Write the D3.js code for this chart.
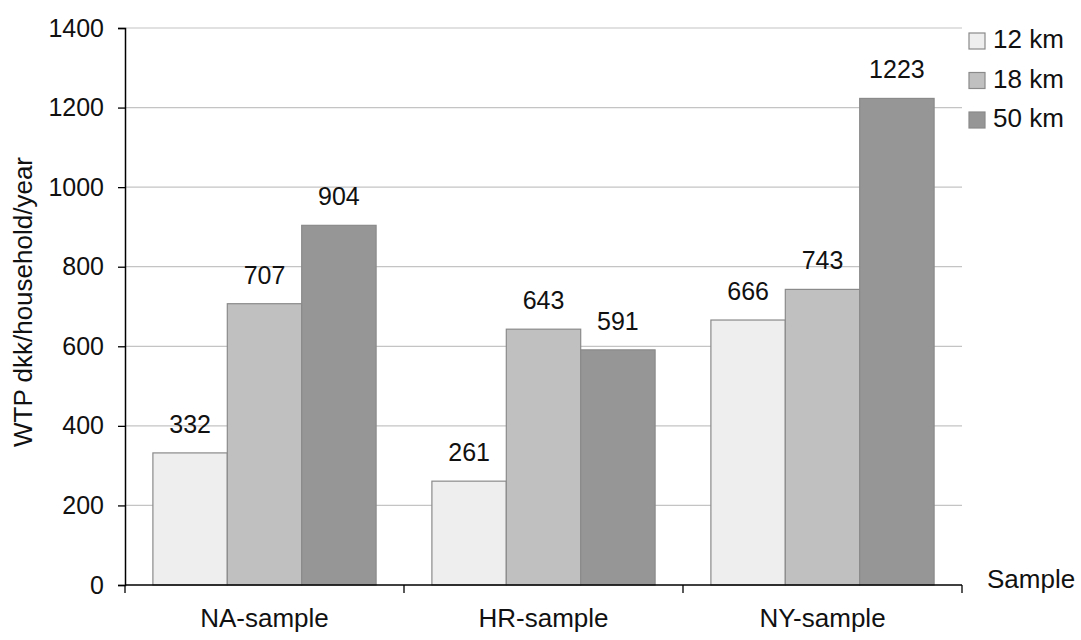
<!DOCTYPE html>
<html>
<head>
<meta charset="utf-8">
<script src="https://cdn.jsdelivr.net/npm/d3@7"></script>
<style>
  body { margin: 0; background: #fff; }
  text { font-family: "Liberation Sans", Arial, sans-serif; fill: #111; }
</style>
</head>
<body>
<svg width="1081" height="640"></svg>
<script>
"use strict";

var samples = ["NA-sample", "HR-sample", "NY-sample"];
var distances = ["12 km", "18 km", "50 km"];
var wtp12 = [332, 261, 666];
var wtp18 = [707, 643, 743];
var wtp50 = [904, 591, 1223];
var yTicks = [0, 200, 400, 600, 800, 1000, 1200, 1400];
var fills = ["#eeeeee", "#c0c0c0", "#969696"];

var series = [wtp12, wtp18, wtp50];

var svg = d3.select("svg");
var plotLeft = 125, plotRight = 962, plotTop = 28, plotBottom = 585;

var x0 = d3.scaleBand()
    .domain(samples)
    .range([plotLeft, plotRight])
    .paddingInner(0.2)
    .paddingOuter(0.1);

var x1 = d3.scaleBand()
    .domain(distances)
    .range([0, x0.bandwidth()]);

var y = d3.scaleLinear()
    .domain([0, 1400])
    .range([plotBottom, plotTop]);

// gridlines
svg.append("g")
  .selectAll("line")
  .data(yTicks.slice(1))
  .join("line")
    .attr("x1", plotLeft)
    .attr("x2", plotRight)
    .attr("y1", d => y(d))
    .attr("y2", d => y(d))
    .attr("stroke", "#c4c4c4")
    .attr("stroke-width", 1.2);

// bars
var group = svg.append("g")
  .selectAll("g")
  .data(samples)
  .join("g")
    .attr("transform", d => `translate(${x0(d)},0)`);

group.selectAll("rect")
  .data((d, i) => distances.map((k, j) => ({k: k, v: series[j][i], j: j})))
  .join("rect")
    .attr("x", d => x1(d.k))
    .attr("y", d => y(d.v))
    .attr("width", x1.bandwidth())
    .attr("height", d => y(0) - y(d.v))
    .attr("fill", d => fills[d.j])
    .attr("stroke", "#8a8a8a")
    .attr("stroke-width", 1.2);

group.selectAll("text")
  .data((d, i) => distances.map((k, j) => ({k: k, v: series[j][i]})))
  .join("text")
    .attr("x", d => x1(d.k) + x1.bandwidth() / 2)
    .attr("y", d => y(d.v) - 20)
    .attr("text-anchor", "middle")
    .style("font-size", "25px")
    .text(d => d.v);

// y axis
var yAxis = svg.append("g")
    .attr("transform", `translate(${plotLeft},0)`)
    .call(d3.axisLeft(y).tickValues(yTicks).tickFormat(d3.format("d")).tickSize(7).tickPadding(14));
yAxis.selectAll("text")
    .style("font-size", "25px")
    .style("font-family", "'Liberation Sans', Arial, sans-serif")
    .attr("fill", "#111");
yAxis.select(".domain").attr("stroke", "#000").attr("stroke-width", 1.5);
yAxis.selectAll(".tick line").attr("stroke", "#000").attr("stroke-width", 1.3);

// x axis
var xAxis = svg.append("g")
    .attr("transform", `translate(0,${plotBottom})`);
xAxis.append("line")
    .attr("x1", plotLeft).attr("x2", plotRight)
    .attr("stroke", "#000").attr("stroke-width", 1.5);
xAxis.selectAll(".xt")
  .data(samples.map(s => x0(s) - x0.step() * 0.1).concat([plotRight]))
  .join("line")
    .attr("class", "xt")
    .attr("x1", d => d).attr("x2", d => d)
    .attr("y1", 0).attr("y2", 8)
    .attr("stroke", "#000").attr("stroke-width", 1.3);
xAxis.selectAll(".xl")
  .data(samples)
  .join("text")
    .attr("class", "xl")
    .attr("x", d => x0(d) + x0.bandwidth() / 2)
    .attr("y", 42)
    .attr("text-anchor", "middle")
    .style("font-size", "26px")
    .text(d => d);

svg.append("text")
    .attr("x", 987)
    .attr("y", 588)
    .style("font-size", "26px")
    .text("Sample");

svg.append("text")
    .attr("transform", "translate(32,302) rotate(-90)")
    .attr("text-anchor", "middle")
    .style("font-size", "26px")
    .text("WTP dkk/household/year");

// legend
var legend = svg.append("g")
  .selectAll("g")
  .data(distances)
  .join("g")
    .attr("transform", (d, i) => `translate(969,${33 + i * 39.5})`);
legend.append("rect")
    .attr("width", 16).attr("height", 16)
    .attr("fill", (d, i) => fills[i])
    .attr("stroke", "#8a8a8a")
    .attr("stroke-width", 1.2);
legend.append("text")
    .attr("x", 24)
    .attr("y", 15)
    .style("font-size", "26px")
    .text(d => d);
</script>
</body>
</html>
